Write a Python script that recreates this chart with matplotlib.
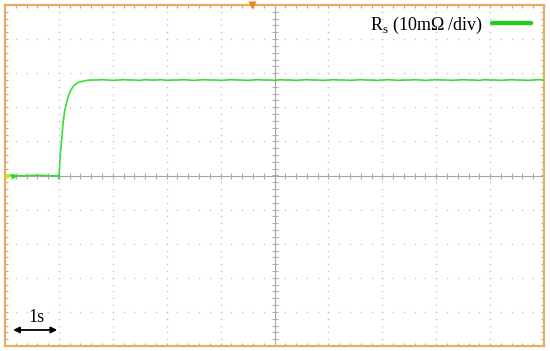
import numpy as np
import matplotlib
matplotlib.use("Agg")
import matplotlib.pyplot as plt

# ---- data (x in s, y in divisions of 10 mOhm) ----
t_base = [0.00, 0.15, 0.30, 0.45, 0.60, 0.75, 0.90, 0.99]
v_base = [0.00, 0.01, -0.01, 0.00, 0.01, 0.00, -0.01, 0.00]

t_rise = [1.00, 1.01, 1.02, 1.03, 1.05, 1.08, 1.11, 1.14, 1.18, 1.22,
          1.26, 1.30, 1.35, 1.40, 1.46, 1.52, 1.60]
v_rise = [-0.10, 0.20, 0.45, 0.70, 1.02, 1.58, 1.92, 2.12, 2.35, 2.50,
          2.60, 2.67, 2.72, 2.75, 2.77, 2.79, 2.80]

t_flat = [1.7, 1.8, 1.9, 2.0, 2.1, 2.2, 2.3, 2.4, 2.5, 2.6, 2.7, 2.8,
          2.9, 3.0, 3.1, 3.2, 3.3, 3.4, 3.5, 3.6, 3.7, 3.8, 3.9, 4.0,
          4.1, 4.2, 4.3, 4.4, 4.5, 4.6, 4.7, 4.8, 4.9, 5.0, 5.1, 5.2,
          5.3, 5.4, 5.5, 5.6, 5.7, 5.8, 5.9, 6.0, 6.1, 6.2, 6.3, 6.4,
          6.5, 6.6, 6.7, 6.8, 6.9, 7.0, 7.1, 7.2, 7.3, 7.4, 7.5, 7.6,
          7.7, 7.8, 7.9, 8.0, 8.1, 8.2, 8.3, 8.4, 8.5, 8.6, 8.7, 8.8,
          8.9, 9.0, 9.1, 9.2, 9.3, 9.4, 9.5, 9.6, 9.7, 9.8, 9.9, 10.0]
v_flat = [2.80, 2.81, 2.80, 2.79, 2.80, 2.81, 2.80, 2.80, 2.79, 2.81,
          2.80, 2.80, 2.81, 2.79, 2.80, 2.80, 2.81, 2.80, 2.79, 2.80,
          2.81, 2.80, 2.80, 2.79, 2.80, 2.81, 2.80, 2.80, 2.79, 2.80,
          2.81, 2.80, 2.80, 2.79, 2.81, 2.80, 2.80, 2.79, 2.80, 2.81,
          2.80, 2.80, 2.79, 2.80, 2.81, 2.80, 2.80, 2.79, 2.80, 2.81,
          2.80, 2.80, 2.79, 2.80, 2.81, 2.80, 2.79, 2.80, 2.80, 2.81,
          2.80, 2.79, 2.80, 2.81, 2.80, 2.80, 2.79, 2.80, 2.81, 2.80,
          2.80, 2.79, 2.81, 2.80, 2.80, 2.79, 2.80, 2.81, 2.80, 2.80,
          2.79, 2.80, 2.81, 2.80]

legend_label = "R$_\\mathregular{s}$ (10m\u03A9 /div)"
scale_label = "1s"

t = t_base + t_rise + t_flat
v = v_base + v_rise + v_flat

# ---- figure ----
W, H = 550, 351
fig = plt.figure(figsize=(W / 100, H / 100), dpi=100)
ax = fig.add_axes([5 / W, (H - 346) / H, 539 / W, 341 / H])
ax.set_xlim(0, 10)
ax.set_ylim(-5, 5)
ax.set_xticks([])
ax.set_yticks([])

frame_col = "#E8AE5E"
for s in ax.spines.values():
    s.set_color(frame_col)
    s.set_linewidth(1.6)

grid_col = "#C4C4C4"
tick_col = "#ABABAB"
# dotted graticule
for gx in range(1, 10):
    if gx == 5:
        continue
    ys = np.arange(-5, 5.001, 0.2)
    ax.plot(np.full_like(ys, gx), ys, ls="none", marker="o", ms=1.1,
            color=grid_col, mec="none", zorder=1)
for gy in range(-4, 5):
    if gy == 0:
        continue
    xs = np.arange(0, 10.001, 0.2)
    ax.plot(xs, np.full_like(xs, gy), ls="none", marker="o", ms=1.1,
            color=grid_col, mec="none", zorder=1)

# centre axes with ticks
ax.axhline(0, color="#A4A4A4", lw=0.8, zorder=2)
ax.axvline(5, color="#A4A4A4", lw=0.8, zorder=2)
xs = np.arange(0, 10.001, 0.2)
ax.plot(xs, np.zeros_like(xs), ls="none", marker="|", ms=4, mew=0.8,
        color=tick_col, zorder=2)
ys = np.arange(-5, 5.001, 0.2)
ax.plot(np.full_like(ys, 5), ys, ls="none", marker="_", ms=4, mew=0.8,
        color=tick_col, zorder=2)

# border ticks
xt = np.arange(0.2, 10, 0.2)
ax.plot(xt, np.full_like(xt, -5), ls="none", marker="|", ms=5, mew=0.8,
        color=tick_col, zorder=2, clip_on=True)
ax.plot(xt, np.full_like(xt, 5), ls="none", marker="|", ms=5, mew=0.8,
        color=tick_col, zorder=2, clip_on=True)
yt = np.arange(-4.8, 5, 0.2)
ax.plot(np.zeros_like(yt), yt, ls="none", marker="_", ms=5, mew=0.8,
        color=tick_col, zorder=2, clip_on=True)
ax.plot(np.full_like(yt, 10), yt, ls="none", marker="_", ms=5, mew=0.8,
        color=tick_col, zorder=2, clip_on=True)

# trace
ax.plot(t, v, color="#3CDC3C", lw=1.2, zorder=4)

# markers (ground / trigger)
ax.plot([0.06], [0], marker=">", ms=5, color="#E0E020", mec="none",
        clip_on=False, zorder=5)
ax.plot([0.16], [0], marker=">", ms=5, color="#22DD22", mec="none",
        clip_on=False, zorder=5)
ax.plot([4.58], [5], marker="v", ms=6, color="#F08020", mec="none",
        clip_on=False, zorder=5)

# legend
serif = ["Liberation Serif", "DejaVu Serif"]
ax.text(8.87, 4.27, legend_label, ha="right", va="baseline",
        fontsize=13, family=serif, zorder=6)
ax.plot([9.03, 9.76], [4.47, 4.47], color="#22CC22", lw=3.2,
        solid_capstyle="round", zorder=6)

# time scale arrow
ax.annotate("", xy=(0.15, -4.53), xytext=(0.97, -4.53),
            arrowprops=dict(arrowstyle="<|-|>", color="black", lw=1.3,
                            mutation_scale=9, shrinkA=0, shrinkB=0))
ax.text(0.59, -4.15, scale_label, ha="center", va="center",
        fontsize=13, family=serif)

fig.savefig("out.png", dpi=100)
